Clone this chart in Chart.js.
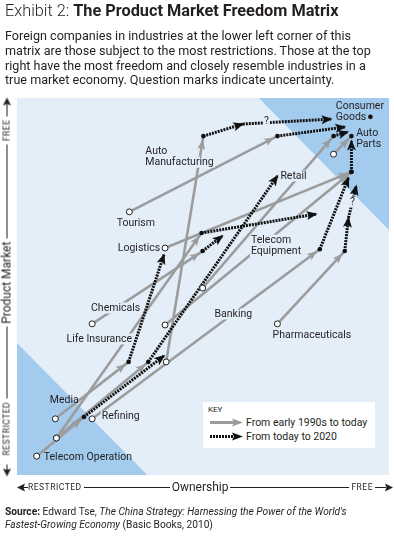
<!DOCTYPE html>
<html>
<head>
<meta charset="utf-8">
<script src="https://cdn.jsdelivr.net/npm/chart.js@4.4.0/dist/chart.umd.min.js"></script>
<style>
  body { margin: 0; background: #fff; font-family: Roboto, 'Noto Sans', sans-serif; color: #231f20; }
  #page { position: relative; width: 394px; height: 539px; overflow: hidden; }
  #matrix { position: absolute; left: 0; top: 0; }
  .title { position: absolute; left: 5px; top: 1px; font-size: 16.3px; line-height: 20px; white-space: nowrap; }
  .title .lead { font-weight: 300; }
  .intro { position: absolute; left: 5px; top: 29px; font-size: 12.6px; line-height: 14.8px; white-space: nowrap; }
  .axis { position: absolute; height: 12px; display: flex; align-items: center; font-size: 12px; white-space: nowrap; }
  .axis .end { font-size: 8.5px; letter-spacing: 0.5px; }
  .axis .rule { height: 1px; background: #231f20; }
  .axis svg { display: block; flex: none; }
  #yaxis { transform: rotate(-90deg); }
  .key { position: absolute; left: 203px; top: 402px; width: 172px; height: 46px; background: #fff; }
  .key .head { position: absolute; left: 5px; top: 3px; font-size: 8px; line-height: 10px; }
  .key .row { position: absolute; left: 7px; height: 12px; display: flex; align-items: center; font-size: 10.5px; }
  .key .row svg { margin-right: 3px; }
  .source { position: absolute; left: 5px; top: 505px; font-size: 10.2px; line-height: 13px; white-space: nowrap; }
</style>
</head>
<body>
<div id="page">
  <canvas id="matrix" width="394" height="539"></canvas>

  <div class="title"><span class="lead">Exhibit 2:</span> <b>The Product Market Freedom Matrix</b></div>
  <div class="intro">Foreign companies in industries at the lower left corner of this<br>matrix are those subject to the most restrictions. Those at the top<br>right have the most freedom and closely resemble industries in a<br>true market economy. Question marks indicate uncertainty.</div>

  <div class="axis" id="yaxis" style="left:-183px; top:281px; width:379px;">
    <svg width="12" height="9"><path d="M0 4.5 L8 0.5 L6.5 4.5 L8 8.5 Z" fill="#231f20"/><rect x="6" y="4" width="6" height="1" fill="#231f20"/></svg>
    <span class="end" style="margin-left:9px">RESTRICTED</span>
    <div class="rule" style="width:72px; margin:0 3px;"></div>
    <span>Product Market</span>
    <div class="rule" style="flex:1; margin:0 3px;"></div>
    <span class="end">FREE</span>
    <svg width="22" height="9"><rect x="3" y="4" width="12" height="1" fill="#231f20"/><path d="M22 4.5 L14 0.5 L15.5 4.5 L14 8.5 Z" fill="#231f20"/></svg>
  </div>

  <div class="axis" style="left:17px; top:481px; width:376px;">
    <svg width="11" height="9"><path d="M0 4.5 L8 0.5 L6.5 4.5 L8 8.5 Z" fill="#231f20"/><rect x="6" y="4" width="5" height="1" fill="#231f20"/></svg>
    <span class="end">RESTRICTED</span>
    <div class="rule" style="width:86px; margin:0 2px;"></div>
    <span>Ownership</span>
    <div class="rule" style="flex:1; margin:0 2px;"></div>
    <span class="end">FREE</span>
    <svg width="20" height="9"><rect x="2" y="4" width="11" height="1" fill="#231f20"/><path d="M20 4.5 L12 0.5 L13.5 4.5 L12 8.5 Z" fill="#231f20"/></svg>
  </div>

  <div class="key">
    <div class="head">KEY</div>
    <div class="row" style="top:14px;">
      <svg width="33" height="9"><line x1="0" y1="4.5" x2="25" y2="4.5" stroke="#9c9c9c" stroke-width="3"/><path d="M33 4.5 L22 0.5 L24 4.5 L22 8.5 Z" fill="#9c9c9c"/></svg>
      <span>From early 1990s to today</span>
    </div>
    <div class="row" style="top:28px;">
      <svg width="33" height="9"><line x1="0" y1="4.5" x2="25" y2="4.5" stroke="#111" stroke-width="3" stroke-dasharray="2 1"/><path d="M33 4.5 L22 0.5 L24 4.5 L22 8.5 Z" fill="#111"/></svg>
      <span>From today to 2020</span>
    </div>
  </div>

  <div class="source"><b>Source:</b> Edward Tse, <i>The China Strategy: Harnessing the Power of the World's<br>Fastest-Growing Economy</i> (Basic Books, 2010)</div>
</div>

<script>
// 0 = most restricted, 100 = most free, on both axes
const industries = ['Telecom Operation', 'Media', 'Retail', 'Banking', 'Refining', 'Chemicals', 'Life Insurance',
  'Auto Manufacturing', 'Telecom Equipment', 'Logistics', 'Tourism', 'Pharmaceuticals', 'Auto Parts', 'Consumer Goods'];

const ownership1990 = [5.3, 10.3, 10.6, 10.6, 20.2, 20.2, 39.8, 40.1, 49.9, 39.8, 30.2, 70.0, 85.1, null];
const market1990 = [5.0, 14.9, 9.8, 9.8, 14.9, 40.1, 39.8, 30.0, 49.6, 60.2, 69.8, 40.1, 85.1, null];

const ownershipToday = [18.0, 30.0, 35.3, 49.6, 81.4, 49.9, 89.9, 50.1, 85.1, 89.9, 70.0, 88.1, 89.9, 95.0];
const marketToday = [15.4, 30.0, 30.0, 64.2, 59.9, 59.4, 80.4, 89.9, 89.9, 80.4, 89.9, 59.4, 89.9, 95.0];

const ownership2020 = [39.5, 39.5, 70.0, 80.4, 89.1, 55.2, null, 60.7, 88.9, 89.9, 88.1, 89.1, null, null];
const market2020 = [31.6, 58.4, 79.3, 69.2, 78.8, 63.4, null, 93.1, 91.0, 88.6, 92.3, 68.2, null, null];

// uncertain moves after the 2020 point (the ones with a question mark)
const ownershipMaybe = [null, null, null, null, null, null, null, 84.4, null, null, null, 91.2, null, null];
const marketMaybe = [null, null, null, null, null, null, null, 94.4, null, null, null, 76.7, null, null];

// shaded corners of the matrix
const restrictedZone = [[0, 0], [35, 0], [0, 35]];
const freeZone = [[65, 100], [100, 100], [100, 65]];

// text placed on the matrix (left edge / vertical middle, in axis units)
const annotations = [
  { text: ['Auto', 'Manufacturing'], x: 34.5, y: 85.9 },
  { text: ['Tourism'], x: 26.8, y: 66.8 },
  { text: ['Logistics'], x: 27.1, y: 60.2 },
  { text: ['Chemicals'], x: 19.9, y: 44.3 },
  { text: ['Life Insurance'], x: 13.3, y: 36.1 },
  { text: ['Banking'], x: 53.1, y: 42.7 },
  { text: ['Telecom', 'Equipment'], x: 62.9, y: 62.3 },
  { text: ['Retail'], x: 70.8, y: 79.3 },
  { text: ['Pharmaceuticals'], x: 68.7, y: 37.1 },
  { text: ['Media'], x: 8.8, y: 19.9, plain: true },
  { text: ['Refining'], x: 22.8, y: 15.6 },
  { text: ['Telecom Operation'], x: 7.2, y: 4.8, plain: true },
  { text: ['Consumer', 'Goods'], x: 85.7, y: 97.9, plain: true },
  { text: ['Auto', 'Parts'], x: 91.2, y: 90.7, plain: true },
  { text: ['?'], x: 66.4, y: 93.9 },
  { text: ['?'], x: 89.5, y: 72.4 }
];

const LIGHT = '#e3eef9';
const DARK = '#a3cbee';
const GREY = '#9c9c9c';
const INK = '#111111';

function move(from, to, past) {
  return {
    data: [{ x: from[0], y: from[1] }, { x: to[0], y: to[1] }],
    showLine: true,
    borderColor: past ? GREY : INK,
    borderWidth: past ? 2.6 : 3,
    borderDash: past ? [] : [2, 1],
    borderCapStyle: 'butt',
    pointRadius: 0,
    arrowHead: past ? { color: GREY, shift: -3.5, len: 10, half: 4 } : { color: INK, shift: 1.5, len: 11, half: 4.5 },
    order: past ? 3 : 2
  };
}

const datasets = [];
industries.forEach((name, i) => {
  if (ownership1990[i] !== null) {
    datasets.push(move([ownership1990[i], market1990[i]], [ownershipToday[i], marketToday[i]], true));
  }
  if (ownership2020[i] !== null) {
    datasets.push(move([ownershipToday[i], marketToday[i]], [ownership2020[i], market2020[i]], false));
  }
  if (ownershipMaybe[i] !== null) {
    datasets.push(move([ownership2020[i], market2020[i]], [ownershipMaybe[i], marketMaybe[i]], false));
  }
});

datasets.push({
  label: 'Today',
  data: industries.map((n, i) => ({ x: ownershipToday[i], y: marketToday[i] })),
  pointRadius: 2.3,
  pointBackgroundColor: INK,
  pointBorderWidth: 0,
  order: 1
});
datasets.push({
  label: 'Early 1990s',
  data: industries.map((n, i) => ({ x: ownership1990[i], y: market1990[i] })).filter(p => p.x !== null),
  pointRadius: 3,
  pointBackgroundColor: '#fff',
  pointBorderColor: '#222',
  pointBorderWidth: 1,
  order: 0
});

// background square with the two shaded corners
const zonePlugin = {
  id: 'zones',
  beforeDatasetsDraw(chart) {
    const { ctx, chartArea: a, scales: { x, y } } = chart;
    ctx.save();
    ctx.fillStyle = LIGHT;
    ctx.fillRect(a.left, a.top, a.right - a.left, a.bottom - a.top);
    ctx.fillStyle = DARK;
    [restrictedZone, freeZone].forEach(zone => {
      ctx.beginPath();
      zone.forEach(([o, m], i) => {
        const px = x.getPixelForValue(o);
        const py = y.getPixelForValue(m);
        if (i === 0) ctx.moveTo(px, py); else ctx.lineTo(px, py);
      });
      ctx.closePath();
      ctx.fill();
    });
    ctx.restore();
  }
};

// arrow heads at the end of every move
const arrowPlugin = {
  id: 'arrowHeads',
  afterDatasetDraw(chart, args) {
    const head = chart.data.datasets[args.index].arrowHead;
    if (!head) return;
    const [from, to] = args.meta.data;
    const ang = Math.atan2(to.y - from.y, to.x - from.x);
    const cos = Math.cos(ang), sin = Math.sin(ang);
    const tx = to.x + cos * head.shift;
    const ty = to.y + sin * head.shift;
    const bx = tx - cos * head.len;
    const by = ty - sin * head.len;
    const nx = tx - cos * head.len * 0.78;
    const ny = ty - sin * head.len * 0.78;
    const ctx = chart.ctx;
    ctx.save();
    ctx.fillStyle = head.color;
    ctx.beginPath();
    ctx.moveTo(tx, ty);
    ctx.lineTo(bx - sin * head.half, by + cos * head.half);
    ctx.lineTo(nx, ny);
    ctx.lineTo(bx + sin * head.half, by - cos * head.half);
    ctx.closePath();
    ctx.fill();
    ctx.restore();
  }
};

// industry names, knocked out of the lines behind them
const labelPlugin = {
  id: 'industryLabels',
  afterDatasetsDraw(chart) {
    const { ctx, scales: { x, y } } = chart;
    ctx.save();
    ctx.font = '10.5px Roboto, "Noto Sans", sans-serif';
    ctx.textBaseline = 'middle';
    annotations.forEach(a => {
      const left = x.getPixelForValue(a.x);
      const top = y.getPixelForValue(a.y);
      a.text.forEach((line, k) => {
        const cy = top + k * 11;
        const w = ctx.measureText(line).width;
        if (!a.plain) {
          ctx.fillStyle = LIGHT;
          ctx.fillRect(left - 1, cy - 5.5, w + 2, 11);
        }
        ctx.fillStyle = '#231f20';
        ctx.fillText(line, left, cy);
      });
    });
    ctx.restore();
  }
};

new Chart(document.getElementById('matrix').getContext('2d'), {
  type: 'scatter',
  data: { datasets },
  options: {
    responsive: false,
    animation: false,
    events: [],
    layout: { padding: { left: 17, top: 98, right: 0, bottom: 64 } },
    scales: {
      x: { display: false, min: 0, max: 100 },
      y: { display: false, min: 0, max: 100 }
    },
    plugins: { legend: { display: false }, tooltip: { enabled: false } }
  },
  plugins: [zonePlugin, arrowPlugin, labelPlugin]
});
</script>
</body>
</html>
